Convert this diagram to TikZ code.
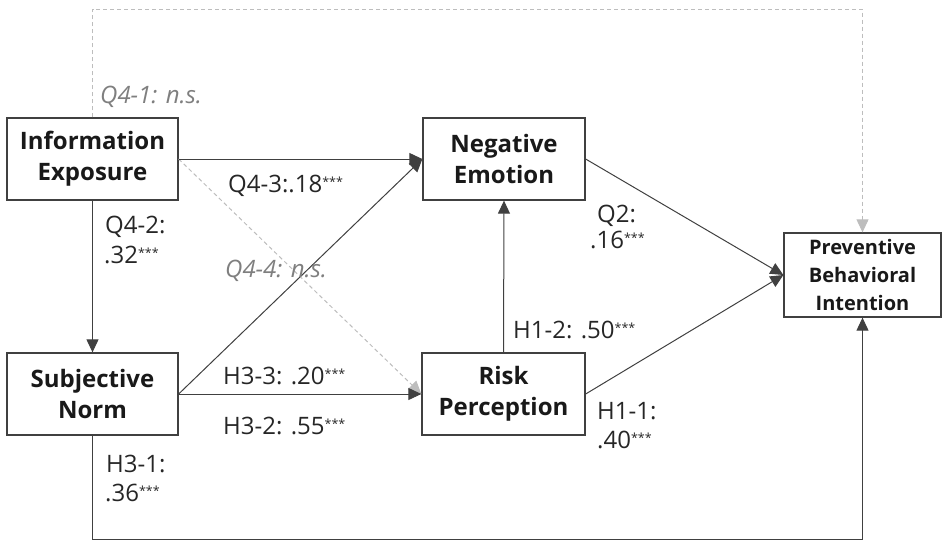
\documentclass[tikz,border=0pt]{standalone}
\usepackage{fontspec}
\setmainfont{Open Sans}
\usetikzlibrary{arrows.meta}
\definecolor{lncol}{HTML}{404040}
\definecolor{dashcol}{HTML}{BDBDBD}
\definecolor{nscol}{HTML}{7F7F7F}
\newcommand{\sigstars}{\raisebox{5.5pt}{\fontsize{12.5}{12.5}\selectfont ***}}
\begin{document}
\begin{tikzpicture}[x=1pt,y=-1pt,
  box/.style={draw=lncol,line width=1.3pt,fill=white,align=center,inner sep=0pt,
    font=\fontsize{24}{31}\selectfont\bfseries,text=black!90},
  pbox/.style={box,font=\fontsize{20}{28}\selectfont\bfseries},
  conn/.style={draw=lncol,line width=1pt,-{Triangle[length=13pt,width=12pt]}},
  dconn/.style={draw=dashcol,line width=1pt,dash pattern=on 4pt off 3pt,
    -{Triangle[length=13pt,width=12pt,fill=dashcol]}},
  lbl/.style={anchor=base west,inner sep=0pt,font=\fontsize{24}{24}\selectfont,text=black!85},
  nslbl/.style={lbl,font=\fontsize{24}{24}\selectfont\itshape,text=nscol}]
\useasboundingbox (0,0) rectangle (944,542);
\node[box,minimum width=171pt,minimum height=82pt] (ie) at (92.5,159) {Information\\Exposure};
\node[box,minimum width=162pt,minimum height=82pt] (ne) at (504,159) {Negative\\Emotion};
\node[box,minimum width=171pt,minimum height=82pt] (sn) at (92.5,394) {Subjective\\Norm};
\node[box,minimum width=163pt,minimum height=82pt] (rp) at (503.5,394) {Risk\\Perception};
\node[pbox,minimum width=157pt,minimum height=84pt] (pbi) at (862.5,275) {Preventive\\Behavioral\\Intention};
% dashed connectors
\draw[dconn] (ie.north) -- (ie.north |- 0,9) -| (pbi.north);
\draw[dconn] (ie.east) -- (rp.west);
% solid connectors
\draw[conn] (ie.east) -- (ne.west);
\draw[conn] (sn.east) -- (ne.west);
\draw[conn] (sn.east) -- (rp.west);
\draw[conn] (ie.south) -- (sn.north);
\draw[conn] (rp.north) -- (ne.south);
\draw[conn] (ne.east) -- (pbi.west);
\draw[conn] (rp.east) -- (pbi.west);
\draw[conn] (sn.south) -- (sn.south |- 0,539) -| (pbi.south);
% labels
\node[nslbl] (l41) at (100,103) {Q4-1: n.s.};
\node[lbl] (l43) at (228,192) {Q4-3:.18\sigstars};
\node[lbl] (l42a) at (105,233) {Q4-2:};
\node[lbl] (l42b) at (104,263) {.32\sigstars};
\node[nslbl] (l44) at (225,277) {Q4-4: n.s.};
\node[lbl] (l33) at (223,384) {H3-3: .20\sigstars};
\node[lbl] (l32) at (223,434) {H3-2: .55\sigstars};
\node[lbl] (l31a) at (106,472) {H3-1:};
\node[lbl] (l31b) at (105,501) {.36\sigstars};
\node[lbl] (lq2a) at (597,222) {Q2:};
\node[lbl] (lq2b) at (590,248) {.16\sigstars};
\node[lbl] (l12) at (513,338) {H1-2: .50\sigstars};
\node[lbl] (l11a) at (597,419) {H1-1:};
\node[lbl] (l11b) at (597,448) {.40\sigstars};
\end{tikzpicture}
\end{document}
